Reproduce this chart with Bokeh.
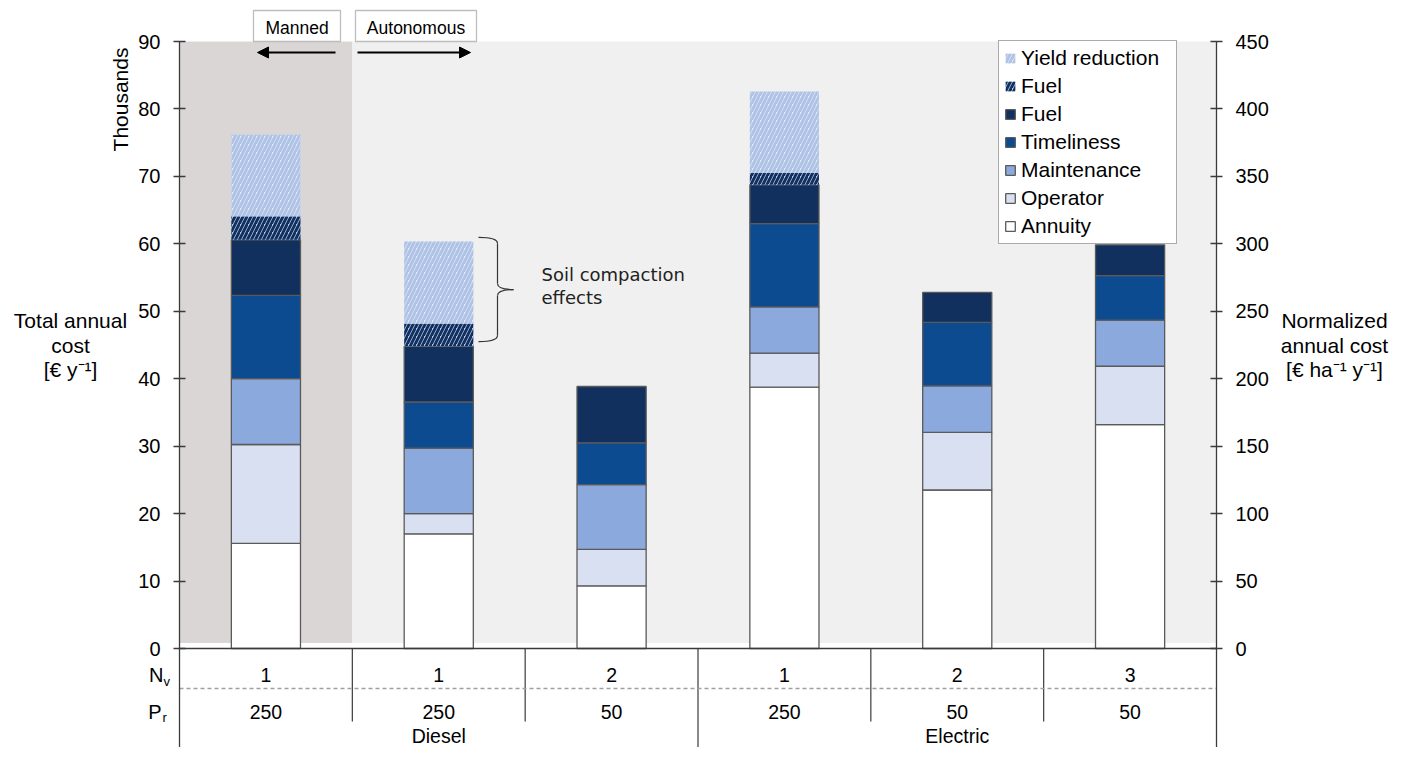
import numpy as np
from bokeh.plotting import figure
from bokeh.models import (ColumnDataSource, Range1d, LinearAxis, FixedTicker, Legend,
                          LegendItem, Label, Arrow, NormalHead)
from bokeh.embed import file_html
from bokeh.resources import INLINE
from bokeh.core.properties import value

# ---------------- data ----------------
powertrain = ["Diesel", "Diesel", "Diesel", "Electric", "Electric", "Electric"]
n_vehicles = ["1", "1", "2", "1", "2", "3"]
p_rated = ["250", "250", "50", "250", "50", "50"]
groups = ["Diesel", "Electric"]

annuity = [15.6, 17.0, 9.3, 38.75, 23.5, 33.2]
operator = [14.65, 3.0, 5.4, 5.05, 8.55, 8.65]
maintenance = [9.75, 9.7, 9.6, 6.85, 6.9, 6.85]
timeliness = [12.35, 6.85, 6.2, 12.35, 9.4, 6.6]
fuel = [8.25, 8.25, 8.35, 5.75, 4.45, 4.55]
fuel_compaction = [3.5, 3.4, 0.0, 1.75, 0.0, 0.0]
yield_reduction = [12.1, 12.15, 0.0, 12.1, 0.0, 0.0]

left_ticks = list(range(0, 91, 10))
right_ticks = list(range(0, 451, 50))

# ---------------- layout ----------------
W, H = 1393, 747
AX_L, AX_R = 179.0, 1216.0        # screen x of the two value axes
Y90, Y0 = 41.0, 648.0             # screen y of 90 and of 0
SX = (AX_R - AX_L) / 6.0
PX = (Y0 - Y90) / 90.0
x_start, x_end = -AX_L / SX, (W - AX_L) / SX
y_end = 90 + Y90 / PX
y_start = 90 - (H - Y90) / PX
FONT = "Liberation Sans"


def sx(px):
    return (px - AX_L) / SX


def sy(py):
    return (Y0 - py) / PX


p = figure(width=W, height=H, x_range=Range1d(x_start, x_end), y_range=Range1d(y_start, y_end),
           output_backend="svg", toolbar_location=None,
           x_axis_location=None, y_axis_location=None,
           min_border_left=0, min_border_right=0, min_border_top=0, min_border_bottom=0)
p.grid.visible = False
p.outline_line_color = None
p.background_fill_color = "white"
p.border_fill_color = "white"

n = len(annuity)
xc = np.arange(n) + 0.5

# backgrounds
p.quad(left=[0], right=[1], bottom=[0.8], top=[90], fill_color="#DBD6D6", line_color=None)
p.quad(left=[1], right=[6], bottom=[0.8], top=[90], fill_color="#F0F0F0", line_color=None)

# axes (pinned inside the frame)
yl = LinearAxis(ticker=FixedTicker(ticks=left_ticks), bounds=(y_start, 90), fixed_location=0)
p.extra_y_ranges = {"norm": Range1d(y_start * 5, y_end * 5)}
yr = LinearAxis(y_range_name="norm", ticker=FixedTicker(ticks=right_ticks),
                bounds=(y_start * 5, 450), fixed_location=6)
for ax in (yl, yr):
    ax.major_tick_in = 6
    ax.major_tick_out = 6
    ax.minor_tick_in = 0
    ax.minor_tick_out = 0
    ax.axis_line_color = "#3a3a3a"
    ax.axis_line_width = 1.3
    ax.major_tick_line_color = "#3a3a3a"
    ax.major_tick_line_width = 1.3
    ax.major_label_text_font = FONT
    ax.major_label_text_font_size = "20px"
    ax.major_label_text_color = "black"
    ax.major_label_standoff = 13
p.add_layout(yl, "left")
p.add_layout(yr, "right")

# stacked bars
series = [
    ("Annuity", annuity, dict(fill_color="white")),
    ("Operator", operator, dict(fill_color="#D9E0F1")),
    ("Maintenance", maintenance, dict(fill_color="#8BA9DC")),
    ("Timeliness", timeliness, dict(fill_color="#0D4B91")),
    ("Fuel", fuel, dict(fill_color="#11305E")),
    ("Fuel", fuel_compaction, dict(fill_color="#B5C8E8", hatch_pattern="right_diagonal_line",
                                    hatch_color="#11305E", hatch_scale=8, hatch_weight=2.8,
                                    line_color=None)),
    ("Yield reduction", yield_reduction, dict(fill_color="#E4E9F3", hatch_pattern="right_diagonal_line",
                                               hatch_color="#AFC3E6", hatch_scale=8, hatch_weight=3.0,
                                               line_color=None)),
]
bottom = np.zeros(n)
renderers = []
for name, vals, style in series:
    vals = np.array(vals)
    src = ColumnDataSource(dict(x=xc, bottom=bottom.copy(), top=bottom + vals))
    kw = dict(line_color="#5a5a5a", line_width=1.3)
    kw.update(style)
    r = p.vbar(x="x", width=0.4, bottom="bottom", top="top", source=src, **kw)
    renderers.append((name, r))
    bottom = bottom + vals

legend = Legend(items=[LegendItem(label=nm, renderers=[r]) for nm, r in reversed(renderers)],
                location=(998, H - 244))
legend.label_text_font = FONT
legend.label_text_font_size = "21px"
legend.label_text_color = "black"
legend.glyph_width = 12
legend.glyph_height = 12
legend.label_height = 21
legend.label_width = 150
legend.spacing = 4
legend.padding = 5
legend.label_standoff = 5
legend.border_line_color = "#555555"
legend.border_line_width = 1.5
legend.background_fill_color = "white"
legend.background_fill_alpha = 1.0
legend.margin = 0
p.add_layout(legend)

# axis line at zero and table lines
Y_ROW1, Y_DASH, Y_ROW2, Y_SEP, Y_GRP = sy(674), sy(688), sy(711), sy(721), sy(735)
p.segment(x0=[0], y0=[0], x1=[6], y1=[0], line_color="#3a3a3a", line_width=1.3)
sep_x = [1, 2, 4, 5]
p.segment(x0=sep_x, y0=[0] * 4, x1=sep_x, y1=[Y_SEP] * 4, line_color="#3a3a3a", line_width=1.2)
p.segment(x0=[3], y0=[0], x1=[3], y1=[y_start], line_color="#3a3a3a", line_width=1.2)
p.segment(x0=[0], y0=[Y_DASH], x1=[6], y1=[Y_DASH], line_color="#a0a0a0", line_width=1.3, line_dash="4 3")

tsrc = ColumnDataSource(dict(x=xc, nv=n_vehicles, pr=p_rated))
p.text(x="x", y=Y_ROW1, text="nv", source=tsrc, text_align="center", text_baseline="middle",
       text_font=value(FONT), text_font_size="19.5px", text_color="black")
p.text(x="x", y=Y_ROW2, text="pr", source=tsrc, text_align="center", text_baseline="middle",
       text_font=value(FONT), text_font_size="19.5px", text_color="black")
gsrc = ColumnDataSource(dict(x=[1.5, 4.5], g=groups))
p.text(x="x", y=Y_GRP, text="g", source=gsrc, text_align="center", text_baseline="middle",
       text_font=value(FONT), text_font_size="19.5px", text_color="black")


def lab(x, y, text, size="20px", align="center", font=FONT, angle=0.0, color="black"):
    p.add_layout(Label(x=x, y=y, text=text, text_align=align, text_baseline="middle",
                       text_font=font, text_font_size=size, angle=angle, text_color=color))


# row labels
lab(sx(163), Y_ROW1, "N", align="right")
lab(sx(163), Y_ROW1 - 1.0, "v", size="13px", align="left")
lab(sx(161), Y_ROW2, "P", align="right")
lab(sx(162), Y_ROW2 - 0.9, "r", size="13px", align="left")

# axis titles
lab(sx(120), sy(99), "Thousands", size="21px", angle=np.pi / 2)
for i, t in enumerate(["Total annual", "cost", "[€ y⁻¹]"]):
    lab(sx(70), sy(320 + i * 24.5), t, size="21px")
for i, t in enumerate(["Normalized", "annual cost", "[€ ha⁻¹ y⁻¹]"]):
    lab(sx(1334), sy(320 + i * 24.5), t, size="21px")

# manned / autonomous boxes and arrows
p.quad(left=[sx(253), sx(355)], right=[sx(340), sx(476)], bottom=[90.0, 90.0], top=[sy(10), sy(10)],
       fill_color="white", line_color="#bdbdbd", line_width=1.3)
lab(sx(296.5), sy(27), "Manned", size="17.5px")
lab(sx(415.5), sy(27), "Autonomous", size="17.5px")
ya = sy(52)
p.add_layout(Arrow(end=NormalHead(size=11, fill_color="black", line_color="black"),
                   x_start=sx(335), y_start=ya, x_end=sx(257), y_end=ya, line_width=2, line_color="black"))
p.add_layout(Arrow(end=NormalHead(size=11, fill_color="black", line_color="black"),
                   x_start=sx(357), y_start=ya, x_end=sx(470), y_end=ya, line_width=2, line_color="black"))

# soil compaction brace on bar 2
b2_top = float(bottom[1]) + 0.6
b2_bot = float(annuity[1] + operator[1] + maintenance[1] + timeliness[1] + fuel[1]) + 0.7
b2_mid = (b2_top + b2_bot) / 2
bx0, bx1, bx2, d = sx(478), sx(497), sx(513), 0.9
p.quadratic(x0=[bx0, bx1, bx2, bx1], y0=[b2_top, b2_mid + d, b2_mid, b2_bot + d],
            x1=[bx1, bx2, bx1, bx0], y1=[b2_top - d, b2_mid, b2_mid - d, b2_bot],
            cx=[bx1, bx1, bx1, bx1], cy=[b2_top, b2_mid, b2_mid, b2_bot],
            line_color="#333333", line_width=1.2)
p.segment(x0=[bx1, bx1], y0=[b2_top - d, b2_mid - d], x1=[bx1, bx1], y1=[b2_mid + d, b2_bot + d],
          line_color="#333333", line_width=1.2)
lab(sx(541), sy(274), "Soil compaction", size="18px", align="left", font="DejaVu Sans", color="#222222")
lab(sx(541), sy(297), "effects", size="18px", align="left", font="DejaVu Sans", color="#222222")

open("out.html", "w").write(file_html(p, INLINE))
